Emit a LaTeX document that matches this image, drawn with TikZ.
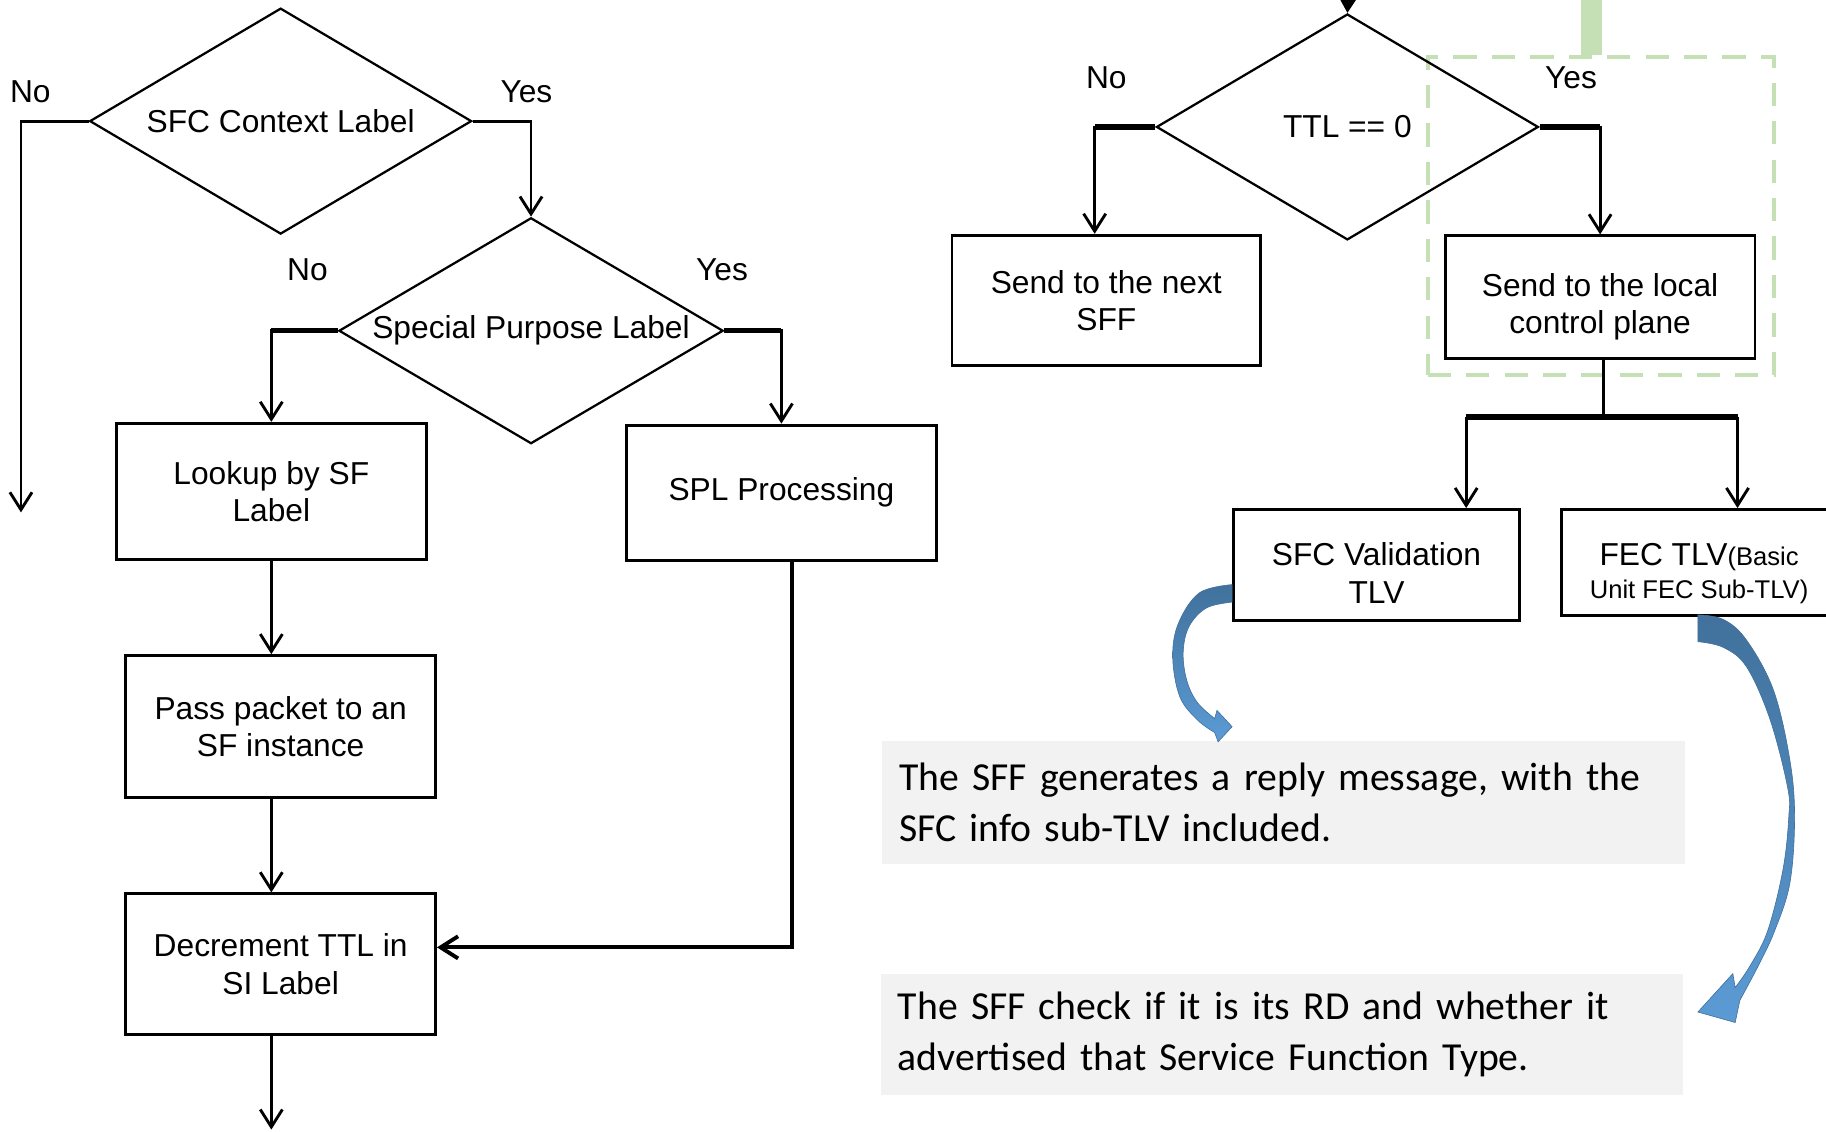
\documentclass[tikz,border=0pt]{standalone}
\usepackage{fontspec}
\setmainfont{Liberation Sans}
\newfontfamily\notefont{Carlito}
\usetikzlibrary{arrows.meta,shapes.geometric}

\definecolor{notegray}{HTML}{F2F2F2}
\definecolor{hlgreen}{HTML}{C5E0B4}
\definecolor{arrowdark}{HTML}{41719C}
\definecolor{arrowlight}{HTML}{5B9BD5}

\newcommand{\flowsize}{\fontsize{15.5}{18.2}\selectfont}
\newcommand{\fecsize}{\fontsize{12.5}{14.5}\selectfont}
\newcommand{\notesize}{\fontsize{19.4}{25}\selectfont}
% pushes a box text a little lower
\newcommand{\drop}[1]{\rule{0pt}{#1}}

\begin{document}
\begin{tikzpicture}[
    x=0.2mm, y=-0.2mm,
    >={Straight Barb[length=3mm,width=3.8mm]},
    decision/.style={
        diamond,
        aspect=1.7,
        draw,
        line width=1.1pt,
        inner sep=0pt,
        minimum width=65.6mm,
        minimum height=38.8mm,
        font=\flowsize
    },
    process/.style={
        draw,
        line width=1.4pt,
        inner sep=0pt,
        minimum width=53.2mm,
        align=center,
        font=\flowsize
    },
    note/.style={
        fill=notegray,
        align=left,
        font=\notefont\notesize,
        text width=132mm,
        inner xsep=2.9mm,
        minimum height=21mm
    },
    tag/.style={font=\flowsize, inner sep=0pt},
    flow/.style={->, line width=1.4pt},
    bus/.style={line width=2.6pt},
    bigarrow/.style={
        draw=arrowdark,
        line width=0.3pt,
        top color=arrowdark,
        bottom color=arrowlight
    }
]

\useasboundingbox (0,0) rectangle (1568,972);

% highlight frame round the local branch
\node[draw=hlgreen, line width=2pt, dash pattern=on 4mm off 2.6mm,
      minimum width=59.4mm, minimum height=54.6mm] (focus) at (1374.5,185.5) {};
\coordinate (feed) at (1367,0);
\draw[hlgreen, line width=3.6mm] (feed) -- (feed |- focus.north);

% left flow
\node[decision] (ctx) at (241,104) {SFC Context Label};
\node[decision, minimum width=66mm] (spl) at (456,284) {Special Purpose Label};
\node[process, minimum height=23.4mm] (lookup) at (233,422) {Lookup by SF\\Label};
\node[process, minimum height=23.2mm] (splproc) at (671,423) {SPL Processing};
\node[process, minimum height=24.4mm] (pass) at (241,624) {Pass packet to an\\SF instance};
\node[process, minimum height=24.2mm] (decr) at (241,828) {Decrement TTL in\\SI Label};

\node[tag] (ctxno) at (26,79) {No};
\node[tag] (ctxyes) at (452,79) {Yes};
\node[tag] (splno) at (264,232) {No};
\node[tag] (splyes) at (620,232) {Yes};

\coordinate (skipend) at (18,440);
\coordinate (outend) at (233,970);

\draw[flow] (ctx.west) -| (skipend);
\draw[flow] (ctx.east) -| (spl.north);
\draw[flow] (spl.west) -| (lookup.north);
\draw[flow] (spl.east) -| (splproc.north);
\draw[bus] (spl.west) -- (spl.west -| lookup.north);
\draw[bus] (spl.east) -- (spl.east -| splproc.north);
\draw[flow] (lookup.south) -- (lookup.south |- pass.north);
\draw[flow] (lookup.south |- pass.south) -- (lookup.south |- decr.north);
\draw[flow, line width=1.9pt] ([xshift=1.8mm]splproc.south) |- ([yshift=2.9mm]decr.east);
\draw[flow] (outend |- decr.south) -- (outend);

% right flow
\node[decision] (ttl) at (1157,109) {TTL == 0};
\node[process, minimum width=53mm, minimum height=22.4mm] (next) at (950,258) {Send to the next\\SFF};
\node[process, minimum height=21mm] (local) at (1374,255) {\drop{7.2mm}Send to the local\\control plane};
\node[process, minimum width=49mm, minimum height=19mm] (valid) at (1182,485) {\drop{6.8mm}SFC Validation\\TLV};
\node[process, minimum width=47.4mm, minimum height=18.2mm] (fec) at (1459,483) {\drop{7.6mm}FEC TLV{\fecsize(Basic}\\[-0.8mm]{\fecsize Unit FEC Sub-TLV)}};

\node[tag] (ttlno) at (950,67) {No};
\node[tag] (ttlyes) at (1349,67) {Yes};

\coordinate (ttlin) at (1158,-12);
\coordinate (nextin) at ([xshift=-2mm]next.north);
\coordinate (split) at (1377,358);
\coordinate (splitl) at (1259,358);
\coordinate (splitr) at (1492,358);

\draw[-{Triangle[length=2.4mm,width=2.8mm]}, line width=1pt] (ttlin) -- (ttl.north);
\draw[flow] (ttl.west) -| (nextin);
\draw[bus] (ttl.west) -- (ttl.west -| nextin);
\draw[flow] (ttl.east) -| (local.north);
\draw[bus] (ttl.east) -- (ttl.east -| local.north);
\draw[line width=1.6pt] (split |- local.south) -- (split);
\draw[bus] (splitl) -- (splitr);
\draw[flow] (splitl) -- (splitl |- valid.north);
\draw[flow] (splitr) -- (splitr |- fec.north);

% notes
\node[note] (reply) at (1102,689) {The SFF generates a reply message, with the\\SFC info sub-TLV included.};
\node[note, minimum height=20.8mm] (check) at (1101,888) {The SFF check if it is its RD and whether it\\advertised that Service Function Type.};

% curved block arrows
\path[bigarrow] plot[smooth, tension=0.6] coordinates {(1058,502) (1030,509) (1012,535) (1007,564) (1013,598) (1028,618) (1043,629)}
    -- (1046,637) -- (1058,624) -- (1045,610)
    -- plot[smooth, tension=0.6] coordinates {(1043,617) (1028,603) (1019,584) (1016,560) (1021,538) (1036,522) (1058,517)}
    -- cycle;
\path[bigarrow] plot[smooth, tension=0.6] coordinates {(1458,528) (1480,532) (1500,550) (1523,593) (1537,653) (1541,702) (1537,758) (1524,799) (1510,829) (1494,859)}
    -- (1490,878) -- (1458,869) -- (1488,836)
    -- plot[smooth, tension=0.6] coordinates {(1490,848) (1503,829) (1518,799) (1531,747) (1536,702) (1535,676) (1520,618) (1500,573) (1480,556) (1458,551)}
    -- cycle;

\end{tikzpicture}
\end{document}
